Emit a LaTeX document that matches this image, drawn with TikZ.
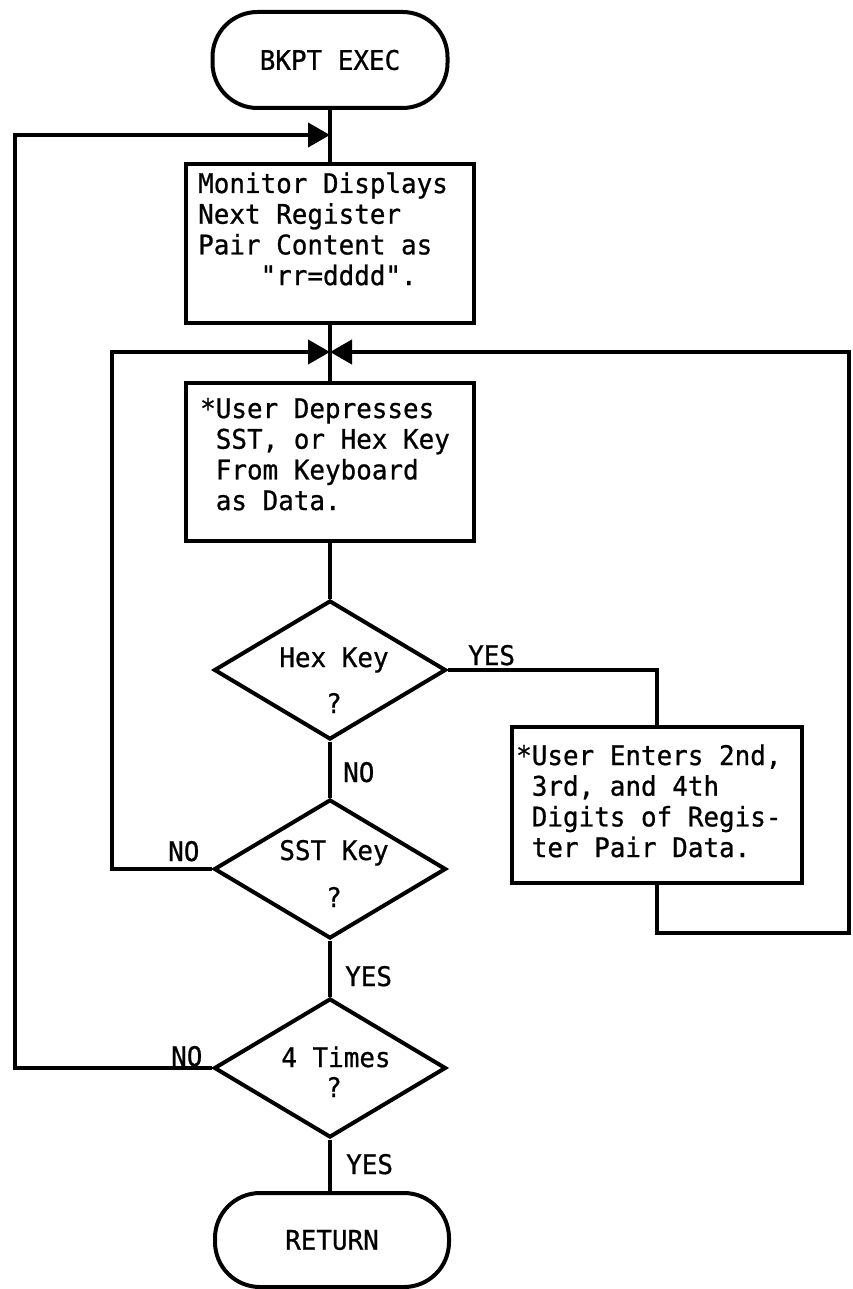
\documentclass[tikz,border=0pt]{standalone}
\usepackage{fontspec}
\newfontfamily\typewriter[FakeStretch=0.96,FakeBold=0.8]{DejaVu Sans Mono}
\usetikzlibrary{shapes.geometric,arrows.meta}

\begin{document}
\begin{tikzpicture}[x=1pt,y=-1pt,
  every node/.style={font=\typewriter\fontsize{27pt}{30.7pt}\selectfont, inner sep=0pt},
  line/.style={line width=4pt},
  terminal/.style={draw, line width=4pt, rectangle, rounded corners=45pt,
    minimum width=235pt, minimum height=96pt},
  procbox/.style={draw, line width=4pt, rectangle, minimum width=288pt, minimum height=158pt},
  decision/.style={draw, line width=4pt, diamond, minimum width=232pt, minimum height=139pt},
  boxtext/.style={anchor=base west},
  dtext/.style={anchor=base},
  lbl/.style={anchor=base west},
  arr/.style={line, -{Triangle[length=22pt,width=24pt]}},
]
\useasboundingbox (0,0) rectangle (852,1289);

% flowchart blocks
\node[terminal] (start) at (330,60) {BKPT EXEC};
\node[procbox, minimum height=159pt] (mon) at (330,243.5) {};
\node[boxtext] (mon-t) at (198,193) {\parbox[t]{270pt}{\raggedright
  Monitor Displays\\Next Register\\Pair Content as\\\hphantom{xxxx}"rr=dddd".}};

\node[procbox] (user) at (330,462) {};
\node[boxtext] (user-t) at (200,418) {\parbox[t]{270pt}{\raggedright
  *User Depresses\\\hphantom{x}SST, or Hex Key\\\hphantom{x}From Keyboard\\\hphantom{x}as Data.}};

\node[decision] (hex) at (330,670) {};
\node[dtext] (hex-a) at (334,667) {Hex Key};
\node[dtext] (hex-b) at (334,713) {?};

\node[procbox, minimum width=290pt, minimum height=156pt] (enter) at (657,805) {};
\node[boxtext] (enter-t) at (516,765) {\parbox[t]{285pt}{\raggedright
  *User Enters 2nd,\\\hphantom{x}3rd, and 4th\\\hphantom{x}Digits of Regis-\\\hphantom{x}ter Pair Data.}};

\node[decision] (sst) at (330,869) {};
\node[dtext] (sst-a) at (334,860) {SST Key};
\node[dtext] (sst-b) at (334,907) {?};

\node[decision] (times) at (330,1068) {};
\node[dtext] (times-a) at (336,1067) {4 Times};
\node[dtext] (times-b) at (334,1097) {?};

\node[terminal, minimum width=234pt, minimum height=94pt] (ret) at (332,1240) {RETURN};

% branch labels
\node[lbl] (l-hex-yes) at (468,665) {YES};
\node[lbl] (l-hex-no) at (343,782) {NO};
\node[lbl] (l-sst-no) at (168,861) {NO};
\node[lbl] (l-sst-yes) at (345,986) {YES};
\node[lbl] (l-times-no) at (171,1066) {NO};
\node[lbl] (l-times-yes) at (346,1174) {YES};

% junction points
\coordinate (m1) at (330,135);
\coordinate (m2) at (330,352);
\coordinate (outerL) at (15,135);
\coordinate (innerL) at (112,352);
\coordinate (outerR) at (849,933);

% main flow
\draw[line] (start.south) -- (mon.north);
\draw[line] (mon.south) -- (user.north);
\draw[line] (user.south) -- (hex.north);
\draw[line] (hex.south) -- (sst.north);
\draw[line] (sst.south) -- (times.north);
\draw[line] (times.south) -- (times.south |- ret.north);

% branches and loops
\draw[line] (hex.east) -| (enter.north);
\draw[arr] (enter.south) |- (outerR) |- (m2);
\draw[arr] (sst.west) -| (innerL) -- (m2);
\draw[arr] (times.west) -| (outerL) -- (m1);
\end{tikzpicture}
\end{document}
